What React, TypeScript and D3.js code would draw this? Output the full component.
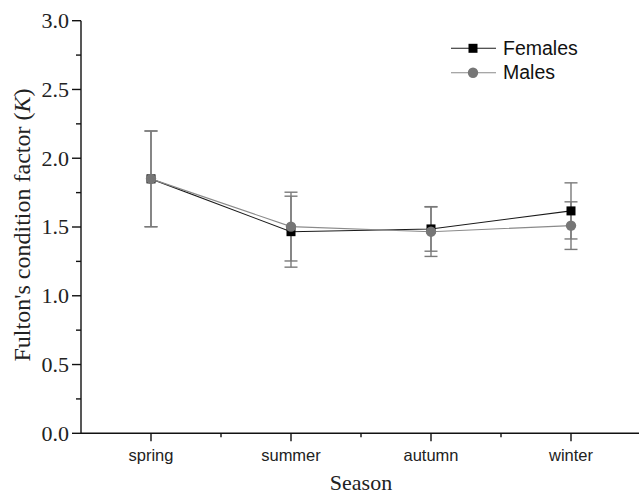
import React from "react";
import * as d3 from "d3";

const seasons = ["spring", "summer", "autumn", "winter"];
const femaleMean = [1.85, 1.466, 1.486, 1.617];
const femaleSD = [0.348, 0.258, 0.162, 0.204];
const maleMean = [1.85, 1.503, 1.466, 1.51];
const maleSD = [0.348, 0.25, 0.18, 0.173];
const yTicks = [0, 0.5, 1.0, 1.5, 2.0, 2.5, 3.0];
const yMinorTicks = [0.25, 0.75, 1.25, 1.75, 2.25, 2.75];
const xMinorTicks = [1.5, 2.5, 3.5];

const W = 639;
const H = 496;

export default function App() {
  const x = d3.scaleLinear().domain([0.5, 4.5]).range([81, 641]);
  const y = d3.scaleLinear().domain([0, 3]).range([433.3, 20.7]);
  const axisColor = "#111";
  const errColor = "#7a7a7a";
  const serif = "'Liberation Serif', 'Times New Roman', serif";
  const sans = "'Liberation Sans', Arial, sans-serif";

  const line = d3
    .line<number>()
    .x((_, i) => x(i + 1))
    .y((d) => y(d));

  const errBars = (mean: number[], sd: number[], key: string) =>
    mean.map((m, i) => {
      const cx = x(i + 1);
      const top = y(m + sd[i]);
      const bot = y(m - sd[i]);
      return (
        <g key={key + i} stroke={errColor} strokeWidth={1.4}>
          <line x1={cx} x2={cx} y1={top} y2={bot} />
          <line x1={cx - 6.5} x2={cx + 6.5} y1={top} y2={top} />
          <line x1={cx - 6.5} x2={cx + 6.5} y1={bot} y2={bot} />
        </g>
      );
    });

  return (
    <svg
      width={W}
      height={H}
      style={{ position: "absolute", left: 0, top: 0, background: "#fff" }}
    >
      <rect x={0} y={0} width={W} height={H} fill="#fff" />
      {/* error bars */}
      {errBars(femaleMean, femaleSD, "f")}
      {errBars(maleMean, maleSD, "m")}
      {/* lines */}
      <path d={line(femaleMean) || ""} fill="none" stroke="#1a1a1a" strokeWidth={1.1} />
      <path d={line(maleMean) || ""} fill="none" stroke="#8a8a8a" strokeWidth={1.1} />
      {/* markers */}
      {femaleMean.map((m, i) => (
        <rect key={"fs" + i} x={x(i + 1) - 4.5} y={y(m) - 4.5} width={9} height={9} fill="#000" />
      ))}
      {maleMean.map((m, i) => (
        <circle key={"mc" + i} cx={x(i + 1)} cy={y(m)} r={5.2} fill="#767676" />
      ))}

      {/* axes */}
      <line x1={x(0.5)} x2={x(0.5)} y1={y(0)} y2={y(3)} stroke={axisColor} strokeWidth={1.4} />
      <line x1={x(0.5)} x2={W} y1={y(0)} y2={y(0)} stroke={axisColor} strokeWidth={1.4} />
      {yTicks.map((t) => (
        <g key={"yt" + t}>
          <line x1={x(0.5) - 9} x2={x(0.5)} y1={y(t)} y2={y(t)} stroke={axisColor} strokeWidth={1.4} />
          <text
            x={x(0.5) - 12}
            y={y(t)}
            dy="0.34em"
            textAnchor="end"
            fontFamily={serif}
            fontSize={22}
            fill="#222"
          >
            {t.toFixed(1)}
          </text>
        </g>
      ))}
      {yMinorTicks.map((t) => (
        <line key={"ym" + t} x1={x(0.5) - 5} x2={x(0.5)} y1={y(t)} y2={y(t)} stroke={axisColor} strokeWidth={1.4} />
      ))}
      {seasons.map((s, i) => (
        <g key={"xt" + s}>
          <line x1={x(i + 1)} x2={x(i + 1)} y1={y(0)} y2={y(0) + 8} stroke={axisColor} strokeWidth={1.4} />
          <text x={x(i + 1)} y={461} textAnchor="middle" fontFamily={sans} fontSize={16.5} fill="#222">
            {s}
          </text>
        </g>
      ))}
      {xMinorTicks.map((t) => (
        <line key={"xm" + t} x1={x(t)} x2={x(t)} y1={y(0)} y2={y(0) + 4} stroke={axisColor} strokeWidth={1.4} />
      ))}

      {/* axis titles */}
      <text x={361} y={490} textAnchor="middle" fontFamily={serif} fontSize={22} fill="#222">
        Season
      </text>
      <text
        transform={`translate(30, 225) rotate(-90)`}
        textAnchor="middle"
        fontFamily={serif}
        fontSize={24}
        fill="#222"
      >
        Fulton's condition factor (<tspan fontStyle="italic">K</tspan>)
      </text>

      {/* legend */}
      <g>
        <line x1={451} x2={496} y1={48.3} y2={48.3} stroke="#1a1a1a" strokeWidth={1.1} />
        <rect x={473 - 4.5} y={48.3 - 4.5} width={9} height={9} fill="#000" />
        <text x={503} y={54.5} fontFamily={sans} fontSize={19.5} fill="#111">
          Females
        </text>
        <line x1={451} x2={496} y1={72.7} y2={72.7} stroke="#8a8a8a" strokeWidth={1.1} />
        <circle cx={473} cy={72.7} r={5.2} fill="#767676" />
        <text x={503} y={79} fontFamily={sans} fontSize={19.5} fill="#111">
          Males
        </text>
      </g>
    </svg>
  );
}
